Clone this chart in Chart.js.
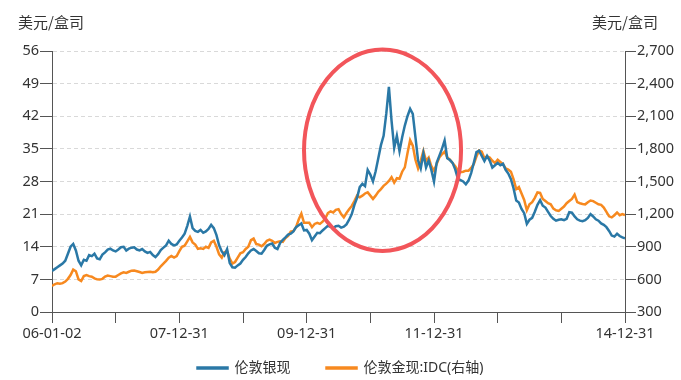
<!DOCTYPE html>
<html><head><meta charset="utf-8">
<script src="https://cdn.jsdelivr.net/npm/chart.js@4.4.1/dist/chart.umd.min.js"></script>
<style>html,body{margin:0;padding:0;background:#fff;}#wrap{width:681px;height:380px;}</style>
</head><body><div id="wrap"><canvas id="c" width="681" height="380"></canvas></div>
<script>
// ---- data (semi-monthly readings, 2006-01-02 .. 2014-12-31) ----
const seriesNames = ['伦敦银现', '伦敦金现:IDC(右轴)'];
const axisUnit = '美元/盒司';
const yearTickLabels = ['06-01-02','','07-12-31','','09-12-31','','11-12-31','','','14-12-31'];
const monthsPerPoint = 0.5;
const silver = [
 8.8,9.2,9.6,10.0,10.4,11.0,12.5,14.0,14.6,13.2,11.0,10.0,11.2,11.0,12.2,12.0,12.5,11.5,11.3,12.3,12.8,13.4,13.6,13.2,
 13.0,13.4,13.9,14.0,13.2,13.6,13.8,13.9,13.4,13.2,13.5,13.0,12.7,12.9,12.2,11.8,12.4,13.3,13.8,14.3,15.3,14.6,14.3,14.5,
 15.3,16.0,16.8,18.5,20.5,18.0,17.4,17.2,17.6,17.0,17.3,17.8,18.7,18.0,16.5,14.3,13.0,12.2,13.5,10.5,9.6,9.5,10.0,10.4,
 11.2,11.8,12.6,13.2,13.5,13.1,12.6,12.5,13.3,14.2,14.5,14.7,13.8,13.5,14.8,15.5,16.0,16.6,16.8,17.3,18.2,18.6,19.0,17.5,
 17.6,16.8,15.4,16.2,17.0,16.9,17.5,18.0,18.5,18.3,18.0,18.4,18.5,18.1,18.3,18.8,19.8,21.0,23.0,24.5,26.8,27.5,27.0,30.5,
 29.5,28.0,30.2,33.0,35.8,37.8,42.5,48.3,41.0,35.2,37.8,34.5,37.5,40.0,42.0,43.6,42.5,37.5,32.5,30.8,34.0,31.0,32.5,30.5,
 28.0,32.0,33.5,35.0,36.8,33.0,32.6,32.0,30.6,28.6,28.3,28.0,27.4,28.2,29.8,32.0,34.3,34.6,33.5,32.4,33.5,32.5,31.0,31.5,
 32.0,31.5,31.8,30.5,29.7,28.5,26.5,23.9,23.5,22.1,21.2,18.9,19.8,20.2,21.5,23.0,24.0,22.8,22.4,21.5,20.6,20.0,19.6,19.8,
 19.9,19.7,20.0,21.4,21.3,20.5,19.9,19.6,19.5,19.7,20.2,21.0,20.5,19.9,19.6,19.0,18.7,18.2,17.4,16.4,16.2,16.8,16.3,16.0,15.8
];
const gold = [
 540,555,565,560,565,580,605,640,690,675,600,585,630,640,630,625,610,600,598,605,625,635,630,625,
 625,640,655,665,660,670,680,682,675,668,660,665,668,670,665,670,690,720,745,770,800,815,800,815,
 860,900,910,950,990,940,920,880,885,880,900,890,940,955,900,830,800,850,860,790,745,760,800,840,
 850,880,900,960,975,925,920,905,925,955,965,955,935,945,950,945,980,1000,1040,1045,1080,1150,1205,1120,
 1120,1120,1080,1110,1120,1110,1130,1160,1210,1225,1215,1240,1245,1200,1170,1210,1245,1275,1320,1370,1355,1370,1390,1400,
 1370,1340,1370,1405,1430,1460,1480,1505,1540,1490,1530,1525,1590,1630,1760,1880,1830,1700,1620,1690,1780,1690,1720,1640,
 1600,1660,1720,1750,1775,1720,1700,1670,1640,1600,1585,1590,1600,1600,1625,1660,1730,1786,1775,1715,1730,1720,1690,1670,
 1700,1680,1660,1620,1610,1590,1520,1430,1450,1390,1330,1235,1290,1310,1350,1400,1395,1340,1320,1300,1290,1250,1235,1230,
 1250,1270,1300,1320,1340,1380,1310,1300,1294,1290,1310,1325,1320,1305,1290,1285,1260,1220,1180,1170,1190,1215,1190,1200,1190
];
const leftAxis = {min: 0, max: 56, step: 7};
const rightAxis = {min: 300, max: 2700, step: 300};
// highlighted region (months from start, left-axis value, radii in the same units)
const highlight = {x: 62.3, y: 34.7, rx: 14.8, ry: 21.6};

// ---- chart ----
const FONT = "'Noto Sans', 'Noto Sans CJK SC', sans-serif";
const TXT = '#333';
const AX = '#555';
const LEGEND_H = 36;
const LEGEND_SHIFT = 19;
const toPoints = arr => arr.map((v, i) => ({x: i * monthsPerPoint, y: v}));

const titlePlugin = {
  id: 'unitTitles',
  afterDraw(chart) {
    const {ctx, chartArea} = chart;
    ctx.save();
    ctx.fillStyle = TXT;
    ctx.font = "15px 'Noto Sans CJK SC', sans-serif";
    ctx.textBaseline = 'middle';
    ctx.textAlign = 'left';
    ctx.fillText(axisUnit, chartArea.left - 34, 22);
    ctx.textAlign = 'right';
    ctx.fillText(axisUnit, chartArea.right + 33, 22);
    ctx.restore();
  }
};
const ellipsePlugin = {
  id: 'ellipse',
  afterDatasetsDraw(chart) {
    const {ctx, scales} = chart;
    const cx = scales.x.getPixelForValue(highlight.x);
    const cy = scales.y.getPixelForValue(highlight.y);
    const rx = Math.abs(scales.x.getPixelForValue(highlight.x + highlight.rx) - cx);
    const ry = Math.abs(scales.y.getPixelForValue(highlight.y + highlight.ry) - cy);
    ctx.save();
    ctx.strokeStyle = '#f2555a';
    ctx.lineWidth = 4;
    ctx.beginPath();
    ctx.ellipse(cx, cy, rx, ry, 0, 0, Math.PI * 2);
    ctx.stroke();
    ctx.restore();
  }
};
// the legend keeps a wide gap between its items; move its box up so the text sits under the axis labels
const legendFitPlugin = {
  id: 'legendFit',
  afterInit(chart) {
    const lg = chart.legend;
    if (!lg) return;
    const orig = lg.fit.bind(lg);
    lg.fit = function () { orig(); this.height = LEGEND_H; };
  },
  afterLayout(chart) {
    const lg = chart.legend;
    if (!lg) return;
    lg.top -= LEGEND_SHIFT;
  }
};

new Chart(document.getElementById('c'), {
  type: 'line',
  data: {
    datasets: [
      {label: seriesNames[0], data: toPoints(silver), yAxisID: 'y', borderColor: '#2a78a6', backgroundColor: '#2a78a6', borderWidth: 2.5, pointRadius: 0, tension: 0},
      {label: seriesNames[1], data: toPoints(gold), yAxisID: 'y2', borderColor: '#f7891f', backgroundColor: '#f7891f', borderWidth: 2.5, pointRadius: 0, tension: 0}
    ]
  },
  options: {
    responsive: false,
    animation: false,
    locale: 'en-US',
    devicePixelRatio: 1,
    layout: {padding: {top: 51, left: 0, right: 0, bottom: 0}},
    plugins: {
      legend: {
        position: 'bottom',
        labels: {boxWidth: 30, boxHeight: 1, color: TXT, font: {family: FONT, size: 14}, padding: 36}
      },
      tooltip: {enabled: false}
    },
    scales: {
      x: {
        type: 'linear', min: 0, max: (silver.length - 1) * monthsPerPoint,
        afterBuildTicks: s => { s.ticks = yearTickLabels.map((_, k) => ({value: k * 12})); },
        afterFit: s => { s.height = 380 - LEGEND_H - 312; },
        ticks: {autoSkip: false, maxRotation: 0, color: TXT, font: {family: FONT, size: 14.5}, padding: 2,
                callback: (v, idx) => yearTickLabels[idx]},
        grid: {display: true, drawOnChartArea: false, drawTicks: true, tickLength: 11, tickColor: AX, tickWidth: 1, tickBorderDash: []},
        border: {display: true, color: AX, width: 1}
      },
      y: {
        position: 'left', min: leftAxis.min, max: leftAxis.max,
        afterFit: s => { s.width = 52; },
        ticks: {stepSize: leftAxis.step, color: TXT, font: {family: FONT, size: 14.5}, padding: 1},
        grid: {color: '#d9d9d9', lineWidth: 1, tickLength: 12, tickColor: AX, tickWidth: 1, tickBorderDash: []},
        border: {display: true, color: AX, width: 1, dash: [4, 3]}
      },
      y2: {
        position: 'right', min: rightAxis.min, max: rightAxis.max,
        afterFit: s => { s.width = 56; },
        ticks: {stepSize: rightAxis.step, color: TXT, font: {family: FONT, size: 14.5}, padding: 1},
        grid: {drawOnChartArea: false, tickLength: 11, tickColor: AX, tickWidth: 1, tickBorderDash: []},
        border: {display: true, color: AX, width: 1}
      }
    }
  },
  plugins: [titlePlugin, ellipsePlugin, legendFitPlugin]
});
</script>
</body></html>
